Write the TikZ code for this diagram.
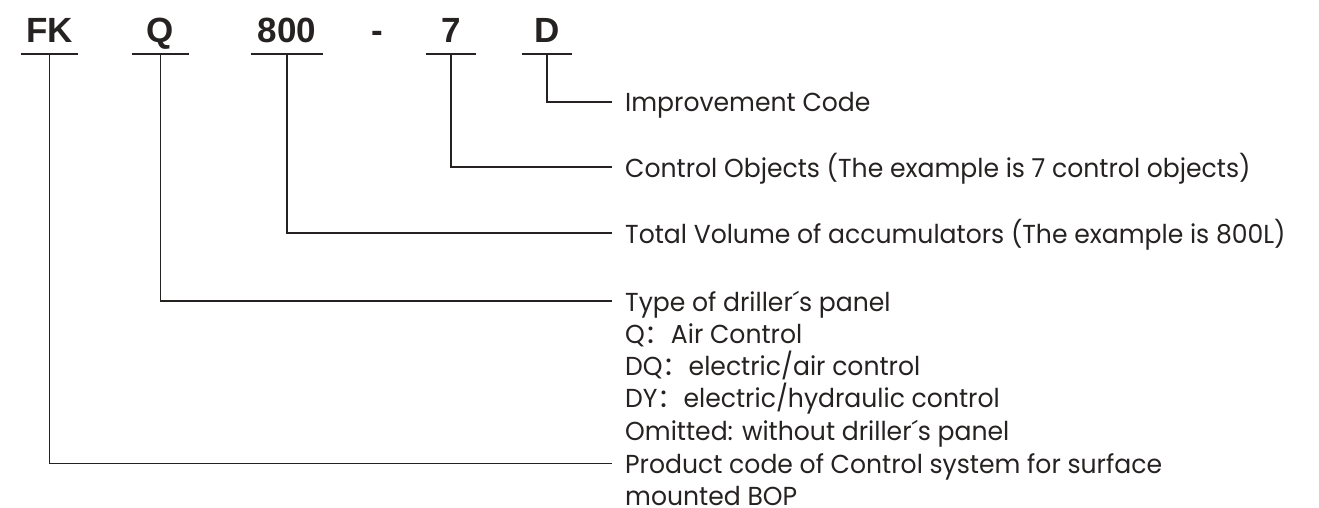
\documentclass[tikz,border=0pt]{standalone}
\usepackage{fontspec}
\setmainfont[FakeStretch=0.965]{Poppins}
\newfontfamily\codefont{Liberation Sans}
\newfontfamily\cjk{Noto Sans CJK SC}
\definecolor{ink}{HTML}{262222}
\begin{document}
\begin{tikzpicture}[x=1pt,y=-1pt,
  codebox/.style={font=\codefont\bfseries\fontsize{35}{35}\selectfont, text=ink,
    text height=25pt, text depth=0pt, inner xsep=0pt, inner ysep=11pt, anchor=base},
  lbl/.style={font=\fontsize{26}{26}\selectfont, text=ink,
    text height=20pt, text depth=0pt, inner ysep=0pt, inner xsep=13pt, anchor=west},
  wire/.style={draw=ink, line width=1.6pt}
]
\fill[white] (0,0) rectangle (1319,508);
\useasboundingbox (0,0) rectangle (1319,508);

% code letters
\node[codebox, minimum width=57pt] (fk) at (49.5,43) {FK};
\node[codebox, minimum width=57pt] (q) at (160.5,43) {Q};
\node[codebox, minimum width=72pt] (v800) at (287,43) {800};
\node[codebox] (dash) at (377,43) {-};
\node[codebox, minimum width=50pt] (n7) at (451,43) {7};
\node[codebox, minimum width=50pt] (d) at (547,43) {D};

% underlines
\foreach \n in {fk,q,v800,n7,d}
  \draw[wire] (\n.south west) -- (\n.south east);

% labels
\node[lbl] (ld) at (612,102) {Improvement Code};
\node[lbl] (l7) at (612,167) {Control Objects (The example is 7 control objects)};
\node[lbl] (l800) at (612,233) {Total Volume of accumulators (The example is 800L)};
\node[lbl] (lq) at (612,301) {Type of driller´s panel};
\node[lbl] (lq1) at (612,333.3) {Q{\cjk ：}Air Control};
\node[lbl] (lq2) at (612,365.6) {DQ{\cjk ：}electric/air control};
\node[lbl] (lq3) at (612,397.9) {DY{\cjk ：}electric/hydraulic control};
\node[lbl] (lq4) at (612,430.2) {Omitted: without driller´s panel};
\node[lbl] (lfk) at (612,463.5) {Product code of Control system for surface};
\node[lbl] (lfk2) at (612,495) {mounted BOP};

% connectors
\draw[wire] (d.south) |- (ld.west);
\draw[wire] (n7.south) |- (l7.west);
\draw[wire] (v800.south) |- (l800.west);
\draw[wire] (q.south) |- (lq.west);
\draw[wire] (fk.south) |- (lfk.west);
\end{tikzpicture}
\end{document}
